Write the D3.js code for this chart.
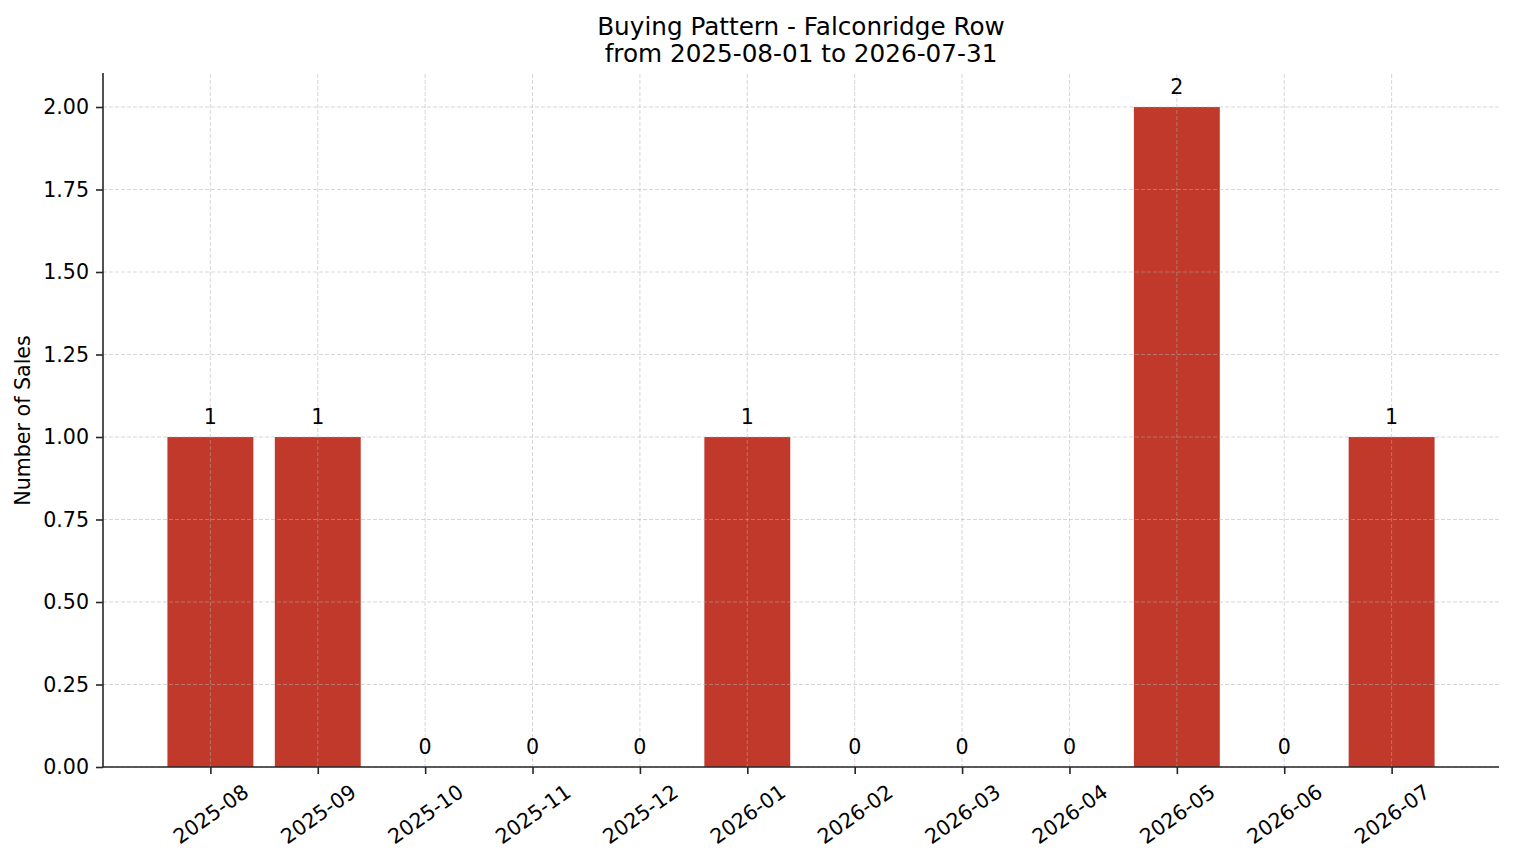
<!DOCTYPE html>
<html lang="en">
<head>
  <meta charset="UTF-8">
  <title>Buying Pattern - Falconridge Row</title>
  <script src="https://d3js.org/d3.v7.min.js"></script>
  <style>
    body { margin: 0; background: #fff; }
    svg { display: block; font-family: "DejaVu Sans", sans-serif; }
  </style>
</head>
<body>
  <div id="chart"></div>
  <script>
    // data
    var months = ["2025-08", "2025-09", "2025-10", "2025-11", "2025-12", "2026-01",
                  "2026-02", "2026-03", "2026-04", "2026-05", "2026-06", "2026-07"];
    var sales = [1, 1, 0, 0, 0, 1, 0, 0, 0, 2, 0, 1];
    var yTicks = [0, 0.25, 0.5, 0.75, 1.0, 1.25, 1.5, 1.75, 2.0];

    var W = 1514, H = 863;
    var margin = { top: 74, right: 15, bottom: 96, left: 103 };
    var width = W - margin.left - margin.right,
        height = H - margin.top - margin.bottom;
    var fs = 20.6;

    var svg = d3.select("#chart").append("svg")
      .attr("width", W)
      .attr("height", H);

    var g = svg.append("g")
      .attr("transform", "translate(" + margin.left + "," + margin.top + ")");

    // x is a linear scale over bar index, limits -1..12 like the original
    var x = d3.scaleLinear().domain([-1, 12]).range([0, width]);
    var y = d3.scaleLinear().domain([0, 2.1]).range([height, 0]);
    var barW = (x(1) - x(0)) * 0.8;

    // bars
    g.selectAll(".bar")
      .data(sales)
      .enter()
      .append("rect")
      .attr("class", "bar")
      .attr("x", function (d, i) { return x(i) - barW / 2; })
      .attr("width", barW)
      .attr("y", function (d) { return y(d); })
      .attr("height", function (d) { return height - y(d); })
      .style("fill", "#c0392b");

    // grid, drawn above the bars
    var grid = g.append("g").attr("class", "grid")
      .style("stroke", "#b0b0b0")
      .style("stroke-opacity", 0.5)
      .style("stroke-width", 1)
      .style("stroke-dasharray", "4,2");
    grid.selectAll(".hg")
      .data(yTicks)
      .enter()
      .append("line")
      .attr("x1", 0).attr("x2", width)
      .attr("y1", function (d) { return y(d); })
      .attr("y2", function (d) { return y(d); });
    grid.selectAll(".vg")
      .data(months)
      .enter()
      .append("line")
      .attr("x1", function (d, i) { return x(i); })
      .attr("x2", function (d, i) { return x(i); })
      .attr("y1", 0).attr("y2", height);

    // y axis
    var yAxis = g.append("g")
      .call(d3.axisLeft(y).tickValues(yTicks).tickFormat(d3.format(".2f"))
        .tickSize(7).tickPadding(7));
    yAxis.select(".domain").attr("d", "M0,-1V" + height);

    // x axis
    var xAxis = g.append("g")
      .attr("transform", "translate(0," + height + ")")
      .call(d3.axisBottom(x).tickValues(d3.range(months.length))
        .tickFormat(function (i) { return months[i]; })
        .tickSize(7).tickPadding(7));
    xAxis.select(".domain").attr("d", "M0,0H" + width);

    svg.selectAll(".domain, .tick line")
      .style("stroke", "#262626")
      .style("stroke-width", 1.6);
    svg.selectAll(".tick text")
      .style("font-family", "DejaVu Sans")
      .style("font-size", fs + "px")
      .style("fill", "#000");

    // rotate x labels 35 degrees, centered under the tick like matplotlib
    var ang = 35 * Math.PI / 180;
    xAxis.selectAll(".tick text").each(function () {
      var t = d3.select(this);
      var w = this.getComputedTextLength();
      var h = fs * 1.0;
      var bh = w * Math.sin(ang) + h * Math.cos(ang);
      var cy = 14 + bh / 2;
      t.attr("y", cy).attr("dy", "0.35em")
        .attr("x", 0)
        .attr("text-anchor", "middle")
        .attr("transform", "rotate(-35,0," + cy + ")");
    });

    // value labels
    g.selectAll(".lbl")
      .data(sales)
      .enter()
      .append("text")
      .attr("x", function (d, i) { return x(i); })
      .attr("y", function (d) { return y(d) - 13; })
      .attr("text-anchor", "middle")
      .style("font-size", fs + "px")
      .text(function (d) { return d; });

    // y label
    svg.append("text")
      .attr("transform", "translate(30," + (margin.top + height / 2) + ") rotate(-90)")
      .attr("text-anchor", "middle")
      .style("font-size", fs + "px")
      .text("Number of Sales");

    // title
    var title = svg.append("text")
      .attr("text-anchor", "middle")
      .style("font-size", "24.7px");
    title.append("tspan").attr("x", margin.left + width / 2).attr("y", 35)
      .text("Buying Pattern - Falconridge Row");
    title.append("tspan").attr("x", margin.left + width / 2).attr("y", 62)
      .text("from 2025-08-01 to 2026-07-31");
  </script>
</body>
</html>
